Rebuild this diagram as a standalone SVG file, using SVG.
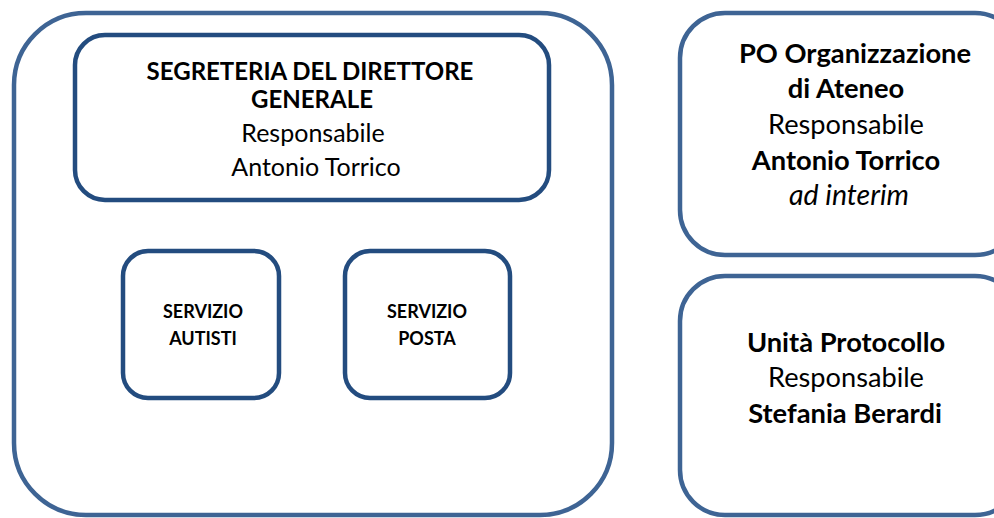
<svg xmlns="http://www.w3.org/2000/svg" width="994" height="518" viewBox="0 0 994 518">
<style>
.outer{fill:#fff;stroke:#3e6494;stroke-width:4.5}
.inner{fill:#fff;stroke:#234c7f;stroke-width:4.5}
text{font-family:Lato,"Open Sans","Liberation Sans",sans-serif;fill:#000;text-anchor:middle}
.t{font-size:25px}
.tb{font-size:24px;font-weight:bold}
.r{font-size:27.2px}
.rb{font-size:27.3px;font-weight:bold}
.ri{font-size:28.5px;font-style:italic}
.s{font-size:18px;font-weight:bold}
</style>
<rect width="994" height="518" fill="#fff"/>
<g id="container">
<rect class="outer" x="14" y="13" width="598" height="502" rx="72" ry="72"/>
</g>
<g id="segreteria">
<rect class="inner" x="75" y="35" width="474" height="165" rx="30" ry="30"/>
<text class="tb" x="310" y="80">SEGRETERIA DEL DIRETTORE</text>
<text class="tb" x="312" y="108">GENERALE</text>
<text class="t" x="313" y="142">Responsabile</text>
<text class="t" x="316" y="176">Antonio Torrico</text>
</g>
<g id="autisti">
<rect class="inner" x="123" y="251" width="156" height="147" rx="25" ry="25"/>
<text class="s" x="203" y="318">SERVIZIO</text>
<text class="s" x="203" y="345">AUTISTI</text>
</g>
<g id="posta">
<rect class="inner" x="345" y="251" width="165" height="147" rx="25" ry="25"/>
<text class="s" x="427" y="318">SERVIZIO</text>
<text class="s" x="427" y="345">POSTA</text>
</g>
<g id="po-organizzazione">
<rect class="outer" x="680" y="13" width="340" height="242" rx="45" ry="45"/>
<text class="rb" x="855" y="63">PO Organizzazione</text>
<text class="rb" x="846" y="98">di Ateneo</text>
<text class="r" x="846" y="134">Responsabile</text>
<text class="rb" x="846" y="170">Antonio Torrico</text>
<text class="ri" x="849" y="205">ad interim</text>
</g>
<g id="protocollo">
<rect class="outer" x="680" y="276" width="340" height="239" rx="45" ry="45"/>
<text class="rb" x="846" y="352">Unità Protocollo</text>
<text class="r" x="846" y="387">Responsabile</text>
<text class="rb" x="845" y="423">Stefania Berardi</text>
</g>
<g id="connectors"></g>
</svg>
